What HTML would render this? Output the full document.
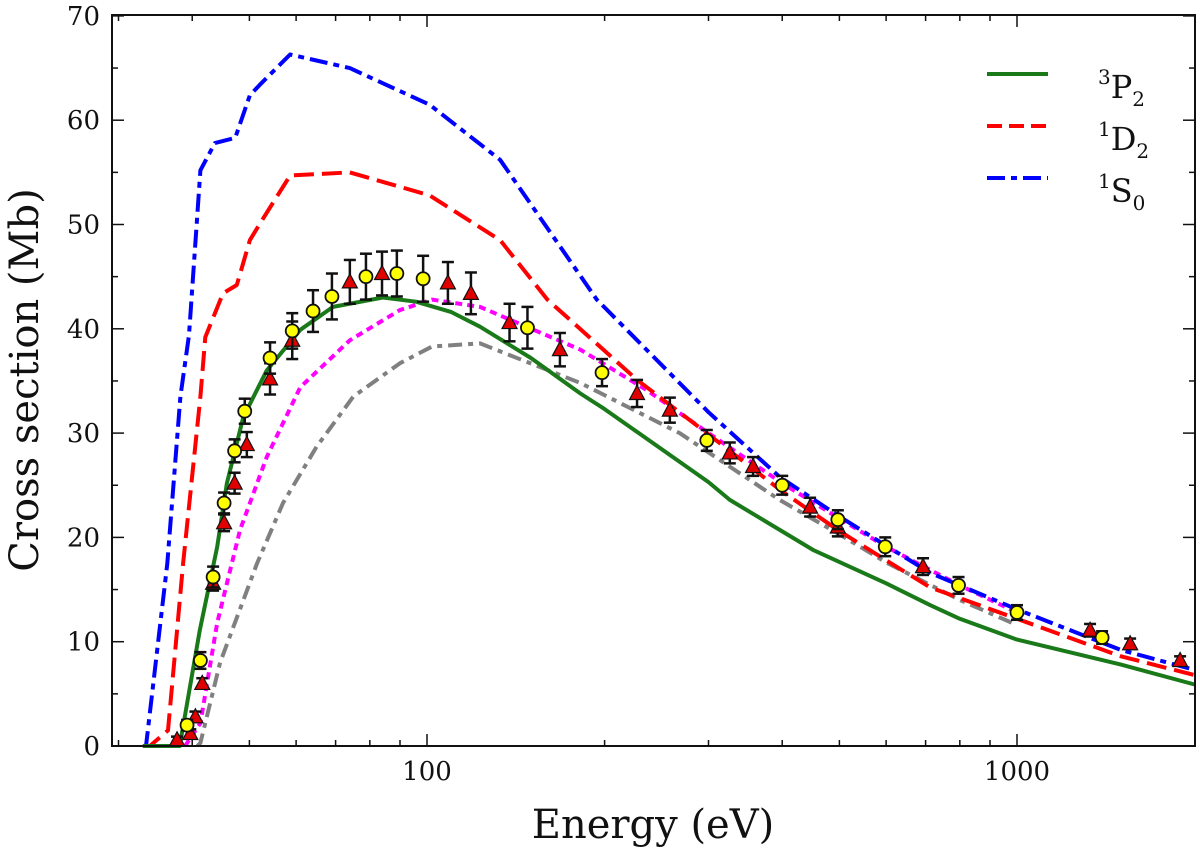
<!DOCTYPE html>
<html><head><meta charset="utf-8"><style>
html,body{margin:0;padding:0;background:#fff}
svg{display:block}
text{font-family:"DejaVu Serif","Liberation Serif",serif;fill:#111}
</style></head><body>
<svg id="chart" width="1200" height="852" viewBox="0 0 1200 852" xmlns="http://www.w3.org/2000/svg">
<g id="series"></g>
<g id="points"></g>
<rect x="112" y="15" width="1083" height="731" fill="none" stroke="#111" stroke-width="2"/>
<g id="ticks"></g>
<text x="653" y="838" font-size="40" text-anchor="middle">Energy (eV)</text>
<text transform="translate(38,380) rotate(-90)" font-size="40" text-anchor="middle">Cross section (Mb)</text>
<g>
  <line x1="987" y1="74" x2="1048" y2="74" stroke="#1a7a1a" stroke-width="4"/>
  <text x="1098" y="98" font-size="32"><tspan font-size="20" dy="-14">3</tspan><tspan dy="14">P</tspan><tspan font-size="20" dy="8">2</tspan></text>
  <line x1="987" y1="126" x2="1048" y2="126" stroke="#ff0000" stroke-width="4" stroke-dasharray="15,7"/>
  <text x="1098" y="150" font-size="32"><tspan font-size="20" dy="-14">1</tspan><tspan dy="14">D</tspan><tspan font-size="20" dy="8">2</tspan></text>
  <line x1="987" y1="178" x2="1048" y2="178" stroke="#0000ff" stroke-width="4" stroke-dasharray="18,6,6,6"/>
  <text x="1098" y="202" font-size="32"><tspan font-size="20" dy="-14">1</tspan><tspan dy="14">S</tspan><tspan font-size="20" dy="8">0</tspan></text>
</g>
</svg>
<script>
const yTicks=[0,10,20,30,40,50,60,70];
const xTickLabels=[100,1000];
const greenE=[33,38.1,41.2,44.1,45.8,48.8,53.5,61,69.3,84.2,95.8,110,123,150,182,200,300,326,451,600,713,800,1000,1500,2000];
const greenV=[0,0,11.1,19.1,25.2,31.5,36,39.9,42.1,43,42.6,41.6,40.2,37.2,33.8,32.3,25.3,23.6,18.8,15.6,13.5,12.2,10.2,7.8,5.9];
const redE=[33,33.9,36.4,38.6,41.3,42.1,45.1,47.6,50.1,52,58.6,74,101,133,160,227,298,400,500,600,713,1000,1500,2000];
const redV=[0,0,1.5,17.5,33.5,39.2,43.4,44.2,48.5,50,54.7,55,52.8,48.5,42.8,35.1,30,24.4,20.6,17.8,15.2,12.2,8.6,6.8];
const blueE=[33,33.4,36.3,38.2,39.5,41.3,43.7,47.3,50.1,52.1,58.6,74,101,133,194,300,396,500,600,713,800,1000,1500,2000];
const blueV=[0,0,17.5,33.5,39.4,55.2,57.8,58.3,62.4,63.4,66.3,65,61.5,56.2,42.8,32,25.8,22,19.2,16.6,15.4,13.1,9.2,7.3];
const magE=[38.9,41.3,44.1,48.2,53.5,61,74,90,102,123,182,236,300,400,500,600,800,1000];
const magV=[0,2.2,11.8,20.7,27.7,34.4,38.9,41.8,42.8,42.1,38,34.1,30,25.2,21.8,19.1,15.4,12.8];
const grayE=[40.8,41.3,44.6,51.5,57,65,75,90,102,123,182,268,396,500,600,800,1000];
const grayV=[0,0.3,8,17.5,23.3,28.7,33.5,36.7,38.3,38.6,34.8,30,23.6,20.3,17.6,14,11.6];
const circE=[39.2,41.3,43.4,45.3,47.2,49.1,54.2,59.1,64.1,69,78.8,88.9,98.5,148,198,298,400,497,598,796,1000,1394];
const circV=[2,8.2,16.2,23.3,28.3,32.1,37.2,39.8,41.7,43.1,45,45.3,44.8,40.1,35.8,29.3,25,21.7,19.1,15.4,12.8,10.4];
const circErr=[0.5,0.8,1,1,1.1,1.2,1.5,1.7,2,2.2,2.2,2.2,2.2,2,1.3,1,0.9,0.9,0.9,0.8,0.7,0.6];
const triE=[37.7,39.7,40.5,41.6,43.4,45.3,47.2,49.5,54.2,59.1,74,83.9,108.5,118.7,138,168,227,258,326,357,446,497,693,1330,1555,1890];
const triV=[0.6,1.2,2.8,6,15.6,21.4,25.2,28.9,35.2,38.9,44.5,45.3,44.4,43.4,40.6,38,33.8,32.2,28.1,26.8,22.9,21,17.2,11.1,9.8,8.2];
const triErr=[0.3,0.4,0.5,0.5,0.7,0.8,1,1.2,1.5,1.8,2.1,2.1,2,2,1.8,1.6,1.3,1.2,1,0.9,0.9,0.9,0.8,0.6,0.5,0.4];

const X=e=>427+590*(Math.log10(e)-2);
const Y=v=>746-10.43*v;
const NS='http://www.w3.org/2000/svg';
function mk(tag,attrs,parent){const el=document.createElementNS(NS,tag);for(const k in attrs)el.setAttribute(k,attrs[k]);parent.appendChild(el);return el;}
const ticks=document.getElementById('ticks');
yTicks.forEach(v=>{
  const t=mk('text',{x:100,y:Y(v)+9,'font-size':26,'text-anchor':'end'},ticks);
  
  
  t.textContent=v;
});
for(let v=0;v<=70;v+=5){
  const len=v%10===0?12:6;
  const l=mk('line',{x1:112,y1:Y(v),x2:112+len,y2:Y(v),stroke:'#111','stroke-width':1.5},ticks);
  
  
  const r=mk('line',{x1:1195,y1:Y(v),x2:1195-len,y2:Y(v),stroke:'#111','stroke-width':1.5},ticks);
  
  
}
[30,40,50,60,70,80,90,100,200,300,400,500,600,700,800,900,1000,2000].forEach(e=>{
  const x=X(e);if(x<113||x>1194)return;
  const len=(e===100||e===1000)?12:6;
  const b=mk('line',{x1:x,y1:746,x2:x,y2:746-len,stroke:'#111','stroke-width':1.5},ticks);
  
  
  const t=mk('line',{x1:x,y1:15,x2:x,y2:15+len,stroke:'#111','stroke-width':1.5},ticks);
  
  
});
xTickLabels.forEach(e=>{
  const t=mk('text',{x:X(e),y:780,'font-size':26,'text-anchor':'middle'},ticks);
  
  
  t.textContent=e;
});
const series=document.getElementById('series');
function curve(E,V,color,dash,name){
  const d=E.map((e,i)=>(i?'L':'M')+X(e).toFixed(1)+','+Y(V[i]).toFixed(1)).join(' ');
  const p=mk('path',{d:d,fill:'none',stroke:color,'stroke-width':4,'stroke-dasharray':dash,'stroke-linejoin':'round'},series);
  
  
}
curve(grayE,grayV,'#808080','14,6,5,6','curve-gray-dashdot');
curve(magE,magV,'#ff00ff','7,5','curve-magenta-dotted');
curve(blueE,blueV,'#0000ff','18,6,6,6','curve-1s0');
curve(redE,redV,'#ff0000','20,8','curve-1d2');
curve(greenE,greenV,'#1a7a1a','none','curve-3p2');
const pts=document.getElementById('points');
function errbar(x,v,err){
  const y1=Y(v+err),y2=Y(v-err);
  const g=mk('g',{stroke:'#111','stroke-width':2.5},pts);
  
  
  mk('line',{x1:x,y1:y1,x2:x,y2:y2},g);
  mk('line',{x1:x-6,y1:y1,x2:x+6,y2:y1},g);
  mk('line',{x1:x-6,y1:y2,x2:x+6,y2:y2},g);
}
triE.forEach((e,i)=>{
  const x=X(e),y=Y(triV[i]);
  errbar(x,triV[i],triErr[i]);
  const t=mk('polygon',{points:`${x},${y-8} ${x-7.5},${y+6} ${x+7.5},${y+6}`,fill:'#e00000',stroke:'#111','stroke-width':1.2},pts);
  
  
});
circE.forEach((e,i)=>{
  const x=X(e),y=Y(circV[i]);
  errbar(x,circV[i],circErr[i]);
  const c=mk('circle',{cx:x,cy:y,r:6.5,fill:'#ffff00',stroke:'#111','stroke-width':1.8},pts);
  
  
});
</script>
</body></html>
